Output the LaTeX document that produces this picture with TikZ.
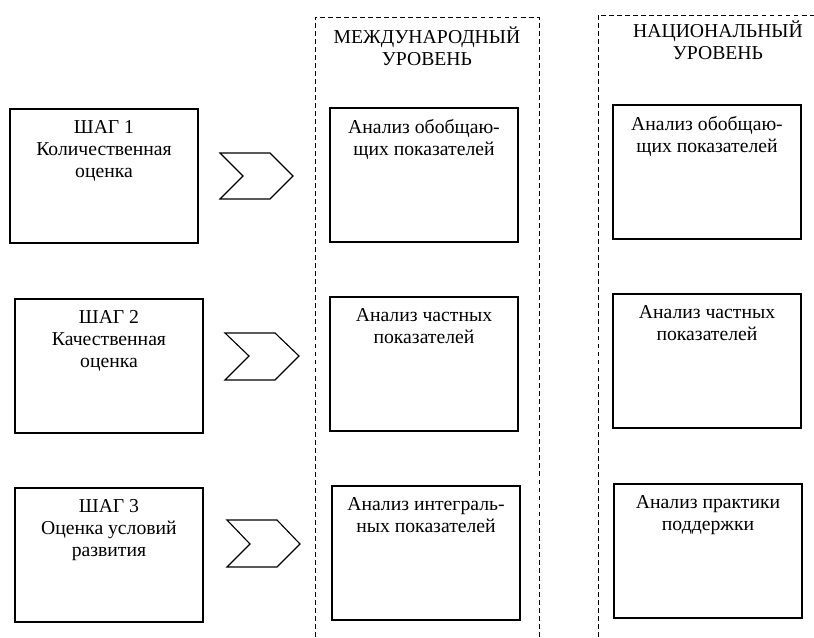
\documentclass[tikz,border=0pt]{standalone}
\usepackage{fontspec}
\setmainfont{Liberation Serif}
\usetikzlibrary{positioning}

\begin{document}
\begin{tikzpicture}[x=0.025cm, y=-0.025cm,
    box/.style={draw, line width=0.8pt, minimum width=4.7cm, minimum height=3.35cm, inner sep=0pt},
    txt/.style={align=center, inner sep=0pt, font=\fontsize{14}{15.6}\selectfont},
    level/.style={draw, line width=0.6pt, dash pattern=on 3.5pt off 2.2pt},
    chevron/.style={draw, line width=0.8pt}]
    \useasboundingbox (0,0) rectangle (814,637);

    % Levels
    \draw[level] (315,637) -- (315,17) -- (539,17) -- (539,637);
    \draw[level] (598,637) -- (598,15) -- (814,15);
    \node[txt] (intl) at (427,46) {МЕЖДУНАРОДНЫЙ\\УРОВЕНЬ};
    \node[txt] (natl) at (718,40) {НАЦИОНАЛЬНЫЙ\\УРОВЕНЬ};

    % Steps
    \node[box] (step1) at (104,176) {};
    \node[box] (step2) at (109,366) {};
    \node[box] (step3) at (109,555) {};
    \node[txt, below=0.3cm of step1.north] (step1txt) {ШАГ 1\\Количественная\\оценка};
    \node[txt, below=0.3cm of step2.north] (step2txt) {ШАГ 2\\Качественная\\оценка};
    \node[txt, below=0.3cm of step3.north] (step3txt) {ШАГ 3\\Оценка условий\\развития};

    % Chevrons
    \draw[chevron] (220,153) -- ++(50,0) -- ++(23,23) -- ++(-23,23) -- ++(-50,0) -- ++(23,-23) -- cycle;
    \draw[chevron] (225,333) -- ++(50,0) -- ++(24,23) -- ++(-24,24) -- ++(-50,0) -- ++(24,-24) -- cycle;
    \draw[chevron] (227,520) -- ++(50,0) -- ++(23,24) -- ++(-23,23) -- ++(-50,0) -- ++(23,-23) -- cycle;

    % International level
    \node[box] (intl1) at (424,175) {};
    \node[box] (intl2) at (424,364) {};
    \node[box] (intl3) at (426,553) {};
    \node[txt, below=0.3cm of intl1.north] (intl1txt) {Анализ обобщаю-\\щих показателей};
    \node[txt, below=0.3cm of intl2.north] (intl2txt) {Анализ частных\\показателей};
    \node[txt, below=0.3cm of intl3.north] (intl3txt) {Анализ интеграль-\\ных показателей};

    % National level
    \node[box] (natl1) at (707,172) {};
    \node[box] (natl2) at (707,361) {};
    \node[box] (natl3) at (708,551) {};
    \node[txt, below=0.3cm of natl1.north] (natl1txt) {Анализ обобщаю-\\щих показателей};
    \node[txt, below=0.3cm of natl2.north] (natl2txt) {Анализ частных\\показателей};
    \node[txt, below=0.3cm of natl3.north] (natl3txt) {Анализ практики\\поддержки};

\end{tikzpicture}
\end{document}
